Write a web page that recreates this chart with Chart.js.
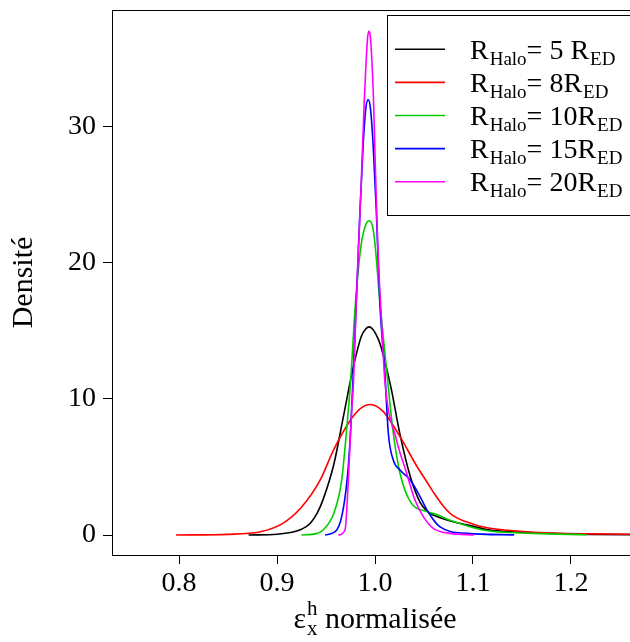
<!DOCTYPE html>
<html>
<head>
<meta charset="utf-8">
<script src="https://cdn.jsdelivr.net/npm/chart.js@4/dist/chart.umd.min.js"></script>
<style>
  html, body { margin: 0; padding: 0; background: #fff; overflow: hidden; }
  #wrap { width: 630px; height: 642px; overflow: hidden; }
</style>
</head>
<body>
<div id="wrap"><canvas id="densChart" width="650" height="642"></canvas></div>
<script>
// tick labels
const xTicks = [0.8, 0.9, 1.0, 1.1, 1.2];
const yTicks = [0, 10, 20, 30];

// legend labels (_{..} = subscript)
const legendLabels = [
    'R_{Halo}= 5 R_{ED}',
    'R_{Halo}= 8R_{ED}',
    'R_{Halo}= 10R_{ED}',
    'R_{Halo}= 15R_{ED}',
    'R_{Halo}= 20R_{ED}'
];
const seriesColors = ['#000000', '#FF0000', '#00CD00', '#0000FF', '#FF00FF'];

// R_Halo = 5 R_ED
const x5 = [0.871, 0.900, 0.915, 0.925, 0.934, 0.941, 0.947, 0.958, 0.968, 0.978, 0.986, 0.9905, 0.994, 0.9975, 1.001, 1.005, 1.0085, 1.013, 1.017, 1.0255, 1.036, 1.046, 1.053, 1.060, 1.080, 1.094, 1.114, 1.128, 1.178, 1.22, 1.28];
const y5 = [0, 0.06, 0.2, 0.42, 0.86, 1.6, 2.6, 5.2, 8.8, 12.4, 14.6, 15.15, 15.3, 15.15, 14.75, 14.1, 13.2, 11.9, 10.6, 7.4, 4.3, 2.4, 1.75, 1.45, 0.98, 0.75, 0.4, 0.3, 0.12, 0.05, 0.02];

// R_Halo = 8 R_ED
const x8 = [0.797, 0.850, 0.883, 0.906, 0.924, 0.944, 0.958, 0.975, 0.985, 0.995, 1.0085, 1.0255, 1.043, 1.053, 1.060, 1.070, 1.080, 1.094, 1.107, 1.128, 1.148, 1.179, 1.22, 1.28];
const y8 = [0, 0.05, 0.24, 0.86, 1.96, 4.04, 6.3, 8.46, 9.3, 9.6, 9.07, 7.23, 5.02, 3.9, 3.1, 2.1, 1.4, 0.95, 0.65, 0.4, 0.27, 0.15, 0.08, 0.04];

// R_Halo = 10 R_ED
const x10 = [0.925, 0.940, 0.947, 0.958, 0.966, 0.971, 0.975, 0.980, 0.986, 0.9905, 0.994, 0.9975, 1.000, 1.005, 1.012, 1.0187, 1.0255, 1.036, 1.053, 1.063, 1.076, 1.110, 1.162, 1.216];
const y10 = [0, 0.1, 0.37, 1.6, 4.04, 7.7, 11.2, 17.0, 21.4, 22.8, 23.1, 22.7, 21.4, 17.1, 12.0, 7.48, 4.54, 2.45, 1.72, 1.5, 1.1, 0.37, 0.12, 0.02];

// R_Halo = 15 R_ED
const x15 = [0.949, 0.961, 0.968, 0.973, 0.976, 0.981, 0.9847, 0.988, 0.9907, 0.993, 0.9953, 0.998, 1.0013, 1.005, 1.010, 1.0136, 1.0187, 1.0255, 1.036, 1.046, 1.053, 1.066, 1.094, 1.142];
const y15 = [0, 0.37, 2.08, 5.27, 8.95, 17.3, 23.9, 28.8, 31.4, 32.0, 31.4, 28.8, 23.9, 17.0, 12.0, 7.48, 5.5, 4.78, 4.04, 2.82, 1.84, 0.61, 0.12, 0.01];

// R_Halo = 20 R_ED
const x20 = [0.9626, 0.9694, 0.9728, 0.976, 0.978, 0.981, 0.9857, 0.9891, 0.991, 0.9925, 0.9939, 0.9953, 0.9968, 0.9985, 1.000, 1.0027, 1.0068, 1.010, 1.022, 1.0323, 1.0408, 1.0493, 1.0595, 1.0765, 1.101];
const y20 = [0, 0.37, 4.04, 8.95, 11.15, 17.3, 25.4, 32.0, 34.9, 36.6, 37.06, 36.6, 34.9, 32.0, 28.0, 21.5, 15.5, 11.4, 6.98, 4.54, 2.57, 1.35, 0.49, 0.12, 0.01];

const seriesX = [x5, x8, x10, x15, x20];
const seriesY = [y5, y8, y10, y15, y20];

const serif = "'Liberation Serif', 'DejaVu Serif', serif";

// draws text with _{sub} and ^{sup} parts, returns width
function richText(ctx, str, x, y, size, small, draw) {
    const re = /([_^])\{([^}]*)\}|([^_^]+)/g;
    let m, cx = x, scriptStart = null, scriptEnd = x, lastKind = null;
    while ((m = re.exec(str)) !== null) {
        if (m[3] !== undefined) {
            cx = Math.max(cx, scriptEnd);
            ctx.font = size + 'px ' + serif;
            if (draw) ctx.fillText(m[3], cx, y);
            cx += ctx.measureText(m[3]).width;
            scriptStart = null; lastKind = null; scriptEnd = cx;
        } else {
            ctx.font = small + 'px ' + serif;
            let sx = cx;
            if (lastKind && lastKind !== m[1] && scriptStart !== null) sx = scriptStart;
            const dy = m[1] === '_' ? size * 0.22 : -size * 0.42;
            if (draw) ctx.fillText(m[2], sx + 1, y + dy);
            const w = ctx.measureText(m[2]).width + 1;
            if (scriptStart === null || lastKind === m[1]) scriptStart = sx;
            scriptEnd = Math.max(scriptEnd, sx + w);
            cx = scriptEnd;
            lastKind = m[1];
        }
    }
    return Math.max(cx, scriptEnd) - x;
}

const rDecor = {
    id: 'rDecor',
    afterDraw(chart) {
        const ctx = chart.ctx;
        const a = chart.chartArea;
        ctx.save();
        // plot box
        ctx.strokeStyle = '#000';
        ctx.lineWidth = 1;
        ctx.strokeRect(a.left + 0.5, a.top + 0.5, a.right - a.left, a.bottom - a.top);

        // legend
        const bx = 387.5, by = 15.5, rowH = 33.1;
        ctx.fillStyle = '#fff';
        ctx.fillRect(bx, by, 400, 200);
        ctx.strokeRect(bx, by, 400, 200);
        ctx.textBaseline = 'alphabetic';
        legendLabels.forEach((lab, i) => {
            const ry = 49.3 + i * rowH;
            ctx.strokeStyle = seriesColors[i];
            ctx.lineWidth = 1.6;
            ctx.beginPath();
            ctx.moveTo(395, ry);
            ctx.lineTo(445, ry);
            ctx.stroke();
            ctx.fillStyle = '#000';
            richText(ctx, lab, 470, ry + 9.5, 28, 19, true);
        });

        // x axis title
        const title = 'ε^{h}_{x} normalisée';
        const xc = chart.scales.x.getPixelForValue(1.0);
        const w = richText(ctx, title, 0, 0, 30, 21, false);
        ctx.fillStyle = '#000';
        richText(ctx, title, xc - w / 2, 628, 30, 21, true);
        ctx.restore();
    }
};

const ctx = document.getElementById('densChart').getContext('2d');
new Chart(ctx, {
    type: 'line',
    data: {
        datasets: legendLabels.map((lab, i) => ({
            label: lab,
            data: seriesX[i].map((x, j) => ({ x: x, y: seriesY[i][j] })),
            borderColor: seriesColors[i],
            borderWidth: 1.6,
            pointRadius: 0,
            fill: false,
            cubicInterpolationMode: 'monotone',
            order: legendLabels.length - i
        }))
    },
    options: {
        responsive: false,
        animation: false,
        devicePixelRatio: 1,
        layout: { padding: { top: 10, right: 10, left: 0, bottom: 0 } },
        plugins: {
            legend: { display: false },
            tooltip: { enabled: false }
        },
        scales: {
            x: {
                type: 'linear',
                min: 0.73163,
                max: 1.27041,
                afterBuildTicks(scale) { scale.ticks = xTicks.map(v => ({ value: v })); },
                afterFit(scale) {
                    scale.height = 87;
                    scale.paddingLeft = 0;
                    scale.paddingRight = 0;
                },
                border: { display: false },
                grid: { drawOnChartArea: false, drawTicks: true, tickLength: 9, color: '#000' },
                ticks: {
                    color: '#000',
                    padding: 3,
                    maxRotation: 0,
                    font: { family: serif, size: 28 },
                    callback: v => v.toFixed(1)
                }
            },
            y: {
                type: 'linear',
                min: -1.47,
                max: 38.6,
                afterBuildTicks(scale) { scale.ticks = yTicks.map(v => ({ value: v })); },
                afterFit(scale) {
                    scale.width = 112;
                    scale.paddingTop = 0;
                    scale.paddingBottom = 0;
                },
                border: { display: false },
                grid: { drawOnChartArea: false, drawTicks: true, tickLength: 9, color: '#000' },
                ticks: {
                    color: '#000',
                    padding: 7,
                    font: { family: serif, size: 28 },
                    callback: v => String(v)
                },
                title: {
                    display: true,
                    text: 'Densité',
                    color: '#000',
                    font: { family: serif, size: 30 },
                    padding: { top: 6, bottom: 0 }
                }
            }
        }
    },
    plugins: [rDecor]
});
</script>
</body>
</html>
